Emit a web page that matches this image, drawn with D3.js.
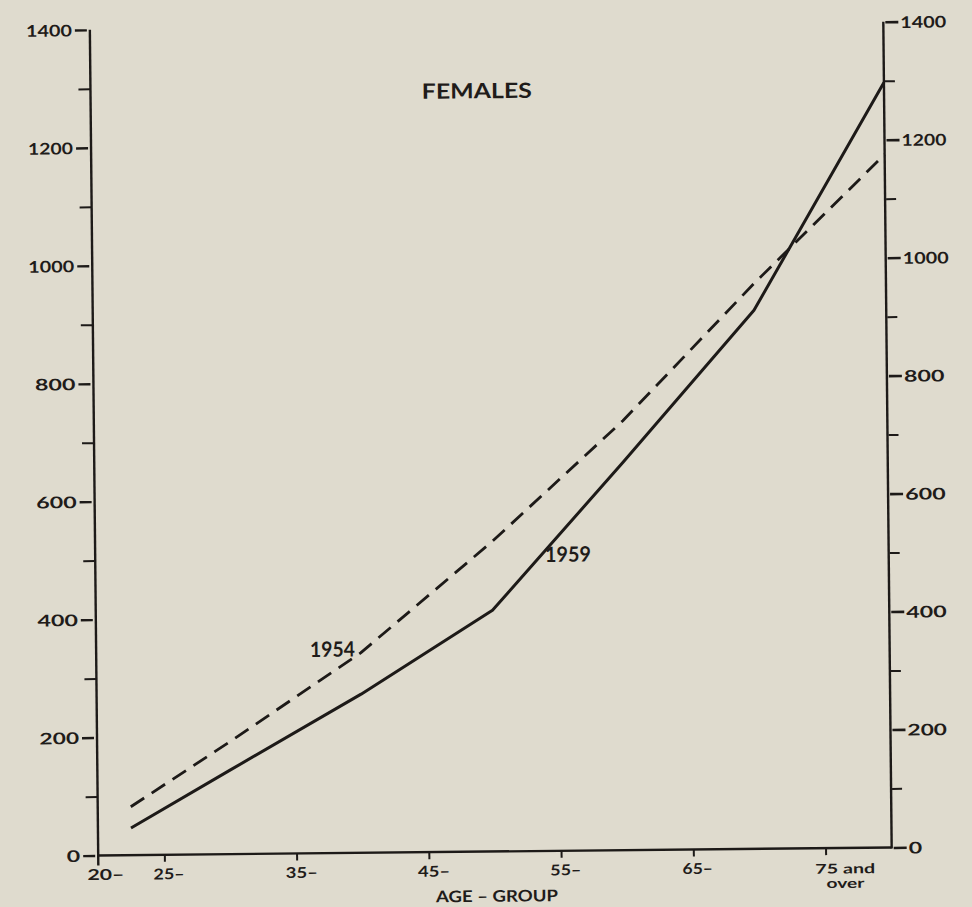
<!DOCTYPE html>
<html>
<head>
<meta charset="utf-8">
<script src="https://cdn.jsdelivr.net/npm/d3@7/dist/d3.min.js"></script>
<style>
  html, body { margin: 0; padding: 0; background: #dfdbce; }
  svg { display: block; }
  text { font-family: Lato, "Noto Sans", sans-serif; font-weight: 700; fill: #1f1c1a; }
</style>
</head>
<body>
<svg id="chart" width="972" height="907"></svg>
<script>
// ---------------- data ----------------
const chartTitle = "FEMALES";
const xAxisTitle = "AGE – GROUP";
const ageDomain = [20, 80];
const ageTicks = [20, 25, 35, 45, 55, 65, 75];
const ageTickLabels = [["20–"], ["25–"], ["35–"], ["45–"], ["55–"], ["65–"], ["75 and", "over"]];
const agePoints = [22.5, 30, 40, 50, 60, 70, 80];           // plotted at group mid-points, 75+ at axis end
const rates1954 = [82, 190, 339, 525, 728, 958, 1175];
const rates1959 = [46, 142, 269, 409, 658, 913, 1297];
const seriesNames = ["1954", "1959"];
const yDomain = [0, 1400];
const yMajorTicks = [0, 200, 400, 600, 800, 1000, 1200, 1400];
const yMinorTicks = [100, 300, 500, 700, 900, 1100, 1300];

// ---------------- layout ----------------
const W = 972, H = 907;
const L = 94, R = 887.5, T = 25.8, B = 851.5;
const ink = "#1d1a18";

const svg = d3.select("#chart");
svg.append("rect").attr("width", W).attr("height", H).attr("fill", "#dfdbce");

const g = svg.append("g").attr("transform", "rotate(-0.58,490,438)");

const x = d3.scaleLinear().domain(ageDomain).range([L, R]);
const y = d3.scaleLinear().domain(yDomain).range([B, T]);

function fit(sel, w) { sel.attr("textLength", w).attr("lengthAdjust", "spacingAndGlyphs"); }
function numWidth(s) {
  let w = 0;
  for (const c of s) w += c === "1" ? 5.5 : (c === "2" ? 12.5 : 13.5);
  return w;
}

// ---------------- axes lines ----------------
g.append("line").attr("x1", L).attr("x2", L).attr("y1", y(1400)).attr("y2", B + 10)
  .attr("stroke", ink).attr("stroke-width", 2.4);
g.append("line").attr("x1", L).attr("x2", R).attr("y1", B).attr("y2", B)
  .attr("stroke", ink).attr("stroke-width", 2.4);
g.append("line").attr("x1", R).attr("x2", R).attr("y1", y(1400)).attr("y2", B + 1)
  .attr("stroke", ink).attr("stroke-width", 2.4);

// left axis (major ticks + labels)
const leftAxis = g.append("g").attr("transform", `translate(${L},0)`)
  .call(d3.axisLeft(y).tickValues(yMajorTicks).tickSize(15).tickPadding(3).tickFormat(d3.format("d")));
leftAxis.select(".domain").remove();
leftAxis.selectAll(".tick line").attr("x1", -3).attr("x2", -15).attr("stroke", ink).attr("stroke-width", 2.4);
leftAxis.selectAll(".tick text")
  .attr("font-size", 16).attr("font-family", null).attr("fill", null)
  .attr("x", -18).attr("dy", "0.36em")
  .each(function(d) { fit(d3.select(this), numWidth(String(d))); });
leftAxis.attr("font-family", null).attr("font-size", null);

// left minor ticks
g.append("g").attr("transform", `translate(${L},0)`)
  .call(d3.axisLeft(y).tickValues(yMinorTicks).tickSize(12).tickFormat(""))
  .call(a => a.select(".domain").remove())
  .call(a => a.selectAll(".tick line").attr("stroke", ink).attr("stroke-width", 2));

// right axis (major ticks + labels)
const rightAxis = g.append("g").attr("transform", `translate(${R},0)`)
  .call(d3.axisRight(y).tickValues(yMajorTicks).tickSize(15).tickPadding(3).tickFormat(d3.format("d")));
rightAxis.select(".domain").remove();
rightAxis.selectAll(".tick line").attr("x1", 2).attr("x2", 15).attr("stroke", ink).attr("stroke-width", 2.6);
rightAxis.selectAll(".tick text")
  .attr("font-size", 16).attr("font-family", null).attr("fill", null)
  .attr("x", 17).attr("dy", "0.36em")
  .each(function(d) { fit(d3.select(this), numWidth(String(d))); });
rightAxis.attr("font-family", null).attr("font-size", null);

// right minor ticks
g.append("g").attr("transform", `translate(${R},0)`)
  .call(d3.axisRight(y).tickValues(yMinorTicks).tickSize(11).tickFormat(""))
  .call(a => a.select(".domain").remove())
  .call(a => a.selectAll(".tick line").attr("x1", 1).attr("stroke", ink).attr("stroke-width", 2));

// bottom axis ticks
const bottomAxis = g.append("g").attr("transform", `translate(0,${B})`)
  .call(d3.axisBottom(x).tickValues(ageTicks.slice(1)).tickSize(7).tickFormat(""));
bottomAxis.select(".domain").remove();
bottomAxis.selectAll(".tick line").attr("stroke", ink).attr("stroke-width", 2);

// bottom tick labels
const xLabelWidths = { "20–": 37, "25–": 31, "35–": 32, "45–": 32, "55–": 31, "65–": 30.5, "75 and": 60, "over": 38 };
ageTicks.forEach((t, i) => {
  const lines = ageTickLabels[i];
  if (lines.length === 1) {
    g.append("text").attr("x", x(t) - 11).attr("y", B + 24.5)
      .attr("font-size", 15).attr("text-anchor", "start")
      .text(lines[0]).call(fit, xLabelWidths[lines[0]]);
  } else {
    lines.forEach((ln, j) => {
      g.append("text").attr("x", x(t) + 19.5).attr("y", B + 25.5 + j * 14.5)
        .attr("font-size", 13.5).attr("text-anchor", "middle")
        .text(ln).call(fit, xLabelWidths[ln]);
    });
  }
});

// ---------------- series ----------------
const line = d3.line().x(d => x(d[0])).y(d => y(d[1]));
const s1954 = agePoints.map((a, i) => [a, rates1954[i]]);
const s1959 = agePoints.map((a, i) => [a, rates1959[i]]);

g.append("path").datum(s1954).attr("d", line)
  .attr("fill", "none").attr("stroke", ink).attr("stroke-width", 2.8)
  .attr("stroke-dasharray", "16,9").attr("stroke-linejoin", "round");
g.append("path").datum(s1959).attr("d", line)
  .attr("fill", "none").attr("stroke", ink).attr("stroke-width", 3)
  .attr("stroke-linejoin", "round");

// series labels
g.append("text").attr("x", x(37.87)).attr("y", y(333)).attr("text-anchor", "middle")
  .attr("font-size", 21).text(seriesNames[0]).call(fit, 45);
g.append("text").attr("x", x(55.75)).attr("y", y(490)).attr("text-anchor", "middle")
  .attr("font-size", 21).text(seriesNames[1]).call(fit, 46);

// titles
g.append("text").attr("x", 480.3).attr("y", 98.2).attr("text-anchor", "middle")
  .attr("font-size", 21).text(chartTitle).call(fit, 110);
g.append("text").attr("x", 492.3).attr("y", B + 50.3).attr("text-anchor", "middle")
  .attr("font-size", 16).text(xAxisTitle).call(fit, 122);
</script>
</body>
</html>
